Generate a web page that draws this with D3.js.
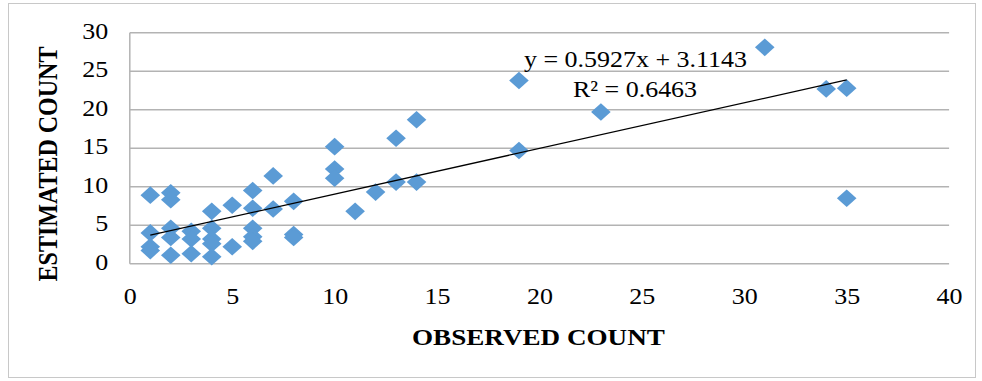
<!DOCTYPE html>
<html>
<head>
<meta charset="utf-8">
<script src="https://cdn.jsdelivr.net/npm/d3@7"></script>
<style>
  html, body { margin: 0; padding: 0; background: #ffffff; }
  svg { display: block; }
  text { font-family: "Liberation Serif", "Times New Roman", serif; fill: #000; }
</style>
</head>
<body>
<svg id="chart" width="982" height="381"></svg>
<script>
// Observed vs. estimated counts
const observed = [
  1, 1, 1, 1,
  2, 2, 2, 2, 2,
  3, 3, 3,
  4, 4, 4, 4, 4,
  5, 5,
  6, 6, 6, 6, 6,
  7, 7,
  8, 8, 8,
  10, 10, 10,
  11, 12, 13, 13, 14, 14,
  19, 19, 23, 31, 34, 35, 35
];
const estimated = [
  8.9, 4.0, 2.2, 1.7,
  9.2, 8.3, 4.6, 3.4, 1.1,
  4.2, 3.2, 1.3,
  6.8, 4.6, 3.2, 2.6, 0.9,
  7.6, 2.2,
  9.5, 7.2, 4.6, 3.5, 2.9,
  11.4, 7.1,
  8.1, 3.8, 3.4,
  15.2, 12.3, 11.1,
  6.8, 9.3, 16.3, 10.6, 18.7, 10.6,
  23.8, 14.7, 19.7, 28.1, 22.7, 22.8, 8.5
];
const xTicks = [0, 5, 10, 15, 20, 25, 30, 35, 40];
const yTicks = [0, 5, 10, 15, 20, 25, 30];
const slope = 0.5927;
const intercept = 3.1143;
const rSquared = 0.6463;
const xTitle = "OBSERVED COUNT";
const yTitle = "ESTIMATED COUNT";

const points = observed.map((o, i) => ({ x: o, y: estimated[i] }));

const svg = d3.select("#chart");
const stretch = 1.13; // horizontal text stretch

// outer frame
svg.append("rect")
  .attr("x", 8.5).attr("y", 3.5)
  .attr("width", 967).attr("height", 374)
  .attr("fill", "none").attr("stroke", "#c8c8c8").attr("stroke-width", 1);

const x = d3.scaleLinear().domain([0, 40]).range([129.8, 949.1]);
const y = d3.scaleLinear().domain([0, 30]).range([263.7, 32.7]);

// horizontal gridlines
svg.append("g")
  .selectAll("line")
  .data(yTicks)
  .join("line")
  .attr("x1", x(0)).attr("x2", x(40))
  .attr("y1", d => y(d)).attr("y2", d => y(d))
  .attr("stroke", "#b3b3b3").attr("stroke-width", 1.5);

// vertical axis line
svg.append("line")
  .attr("x1", x(0)).attr("x2", x(0))
  .attr("y1", y(30)).attr("y2", y(0))
  .attr("stroke", "#b3b3b3").attr("stroke-width", 1.5);

// y axis labels
const yAxis = svg.append("g")
  .attr("transform", `translate(${x(0)},0)`)
  .call(d3.axisLeft(y).tickValues(yTicks).tickSize(0).tickFormat(d3.format("d")));
yAxis.select(".domain").remove();
yAxis.selectAll("text")
  .attr("x", -21.5 / stretch)
  .attr("dy", null)
  .attr("y", 5.6)
  .attr("transform", `scale(${stretch},1)`)
  .style("font-family", "'Liberation Serif', serif")
  .style("font-size", "23px")
  .attr("fill", "#000");

// x axis labels
const xAxis = svg.append("g")
  .attr("transform", `translate(0,${y(0)})`)
  .call(d3.axisBottom(x).tickValues(xTicks).tickSize(0).tickFormat(d3.format("d")));
xAxis.select(".domain").remove();
xAxis.selectAll("text")
  .attr("dy", null)
  .attr("y", 40)
  .attr("transform", `scale(${stretch},1)`)
  .style("font-family", "'Liberation Serif', serif")
  .style("font-size", "23px")
  .attr("fill", "#000");

// markers
const hw = 9.8, hh = 8.8;
const diamond = `M0,${-hh}L${hw},0L0,${hh}L${-hw},0Z`;
svg.append("g")
  .selectAll("path")
  .data(points)
  .join("path")
  .attr("d", diamond)
  .attr("transform", d => `translate(${x(d.x)},${y(d.y)})`)
  .attr("fill", "#5b9bd5");

// linear trend line
const xMin = d3.min(observed), xMax = d3.max(observed);
svg.append("line")
  .attr("x1", x(xMin)).attr("y1", y(slope * xMin + intercept))
  .attr("x2", x(xMax)).attr("y2", y(slope * xMax + intercept))
  .attr("stroke", "#000").attr("stroke-width", 1.3);

// trend equation
svg.append("text")
  .attr("transform", `translate(635.5,67) scale(${stretch},1)`)
  .attr("text-anchor", "middle")
  .style("font-size", "23px")
  .text(`y = ${slope}x + ${intercept}`);
svg.append("text")
  .attr("transform", `translate(635,96.7) scale(${stretch},1)`)
  .attr("text-anchor", "middle")
  .style("font-size", "23px")
  .text(`R² = ${rSquared}`);

// axis titles
svg.append("text")
  .attr("transform", `translate(538.4,345) scale(${stretch},1)`)
  .attr("text-anchor", "middle")
  .style("font-size", "24px")
  .style("font-weight", "bold")
  .text(xTitle);
svg.append("text")
  .attr("transform", `translate(57,164) scale(${stretch},1) rotate(-90)`)
  .attr("text-anchor", "middle")
  .style("font-size", "24px")
  .style("font-weight", "bold")
  .text(yTitle);
</script>
</body>
</html>
